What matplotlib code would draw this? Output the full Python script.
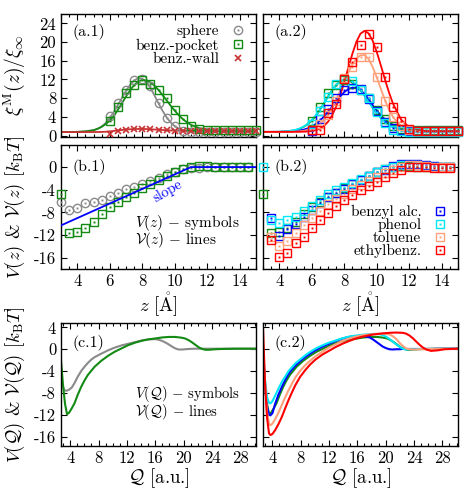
import numpy as np
import matplotlib
matplotlib.use("Agg")
import matplotlib.pyplot as plt
from matplotlib.ticker import MultipleLocator
from matplotlib.lines import Line2D

plt.rcParams['font.family'] = ['cmr10', 'DejaVu Serif']
plt.rcParams['mathtext.fontset'] = 'cm'
plt.rcParams['axes.unicode_minus'] = False
plt.rcParams['font.size'] = 12

# colours
c_grey = '#8a8a8a'
c_green = '#138a13'
c_wall = '#c83232'
c_blue = '#0000ff'
c_cyan = '#00e8f8'
c_salm = '#ffa07a'
c_red = '#ff0000'

# ---- (a) xi^M(z)/xi_inf : symbols at z = 6.0 ... 15.0 ----
z_a = np.arange(6.0, 15.01, 0.5)
xi_sphere = [4.1, 6.9, 9.8, 11.9, 12.2, 10.6, 7.0, 3.8, 2.0, 1.0, 0.7, 0.7, 0.8, 0.8, 0.8, 0.8, 0.8, 0.8, 0.8]
xi_pocket = [3.1, 6.2, 9.1, 10.8, 11.8, 11.1, 9.8, 8.0, 5.5, 3.6, 2.1, 1.4, 1.2, 1.2, 1.2, 1.2, 1.1, 1.1, 1.1]
xi_wall = [0.35, 1.05, 1.3, 1.45, 1.45, 1.35, 1.25, 1.15, 1.05, 1.0, 0.95, 1.0, 1.0, 1.0, 1.05, 1.0, 1.0, 1.0, 1.0]
xi_balc = [1.0, 3.5, 5.7, 8.0, 9.8, 10.2, 9.9, 7.9, 5.3, 3.0, 1.7, 1.1, 0.9, 0.9, 0.9, 0.9, 0.9, 0.9, 0.9]
xi_phen = [2.4, 5.2, 8.3, 11.1, 12.1, 11.7, 9.8, 8.1, 5.0, 2.6, 1.3, 0.9, 0.8, 0.8, 0.8, 0.8, 0.8, 0.8, 0.8]
xi_tolu = [1.2, 2.5, 4.3, 7.3, 12.3, 14.6, 16.8, 16.7, 12.5, 7.5, 4.0, 2.0, 1.2, 1.0, 1.0, 1.0, 1.0, 1.0, 1.0]
xi_ethb = [1.1, 1.1, 4.8, 6.8, 12.0, 15.8, 19.3, 21.7, 18.9, 12.5, 6.2, 3.1, 1.4, 1.0, 1.0, 1.0, 1.0, 1.0, 1.0]

# fitted lines
z_l = [3.0, 3.5, 4.0, 4.5, 5.0, 5.25, 5.5, 5.75, 6.0, 6.25, 6.5, 6.75, 7.0, 7.25, 7.5, 7.75, 8.0,
       8.25, 8.5, 8.75, 9.0, 9.25, 9.5, 9.75, 10.0, 10.25, 10.5, 10.75, 11.0, 11.5, 12.0, 13.0, 14.0, 15.0]
fit_sphere = [0.75, 0.76, 0.8, 0.9, 1.15, 1.45, 1.95, 2.7, 3.74, 5.06, 6.53, 8.08, 9.57, 10.85, 11.79, 12.26, 12.18,
              11.44, 10.2, 8.6, 6.9, 5.3, 3.9, 2.8, 2.0, 1.5, 1.15, 0.95, 0.85, 0.8, 0.8, 0.8, 0.8, 0.8]
fit_pocket = [0.75, 0.76, 0.8, 0.9, 1.15, 1.45, 1.85, 2.45, 3.2, 4.2, 5.5, 6.91, 8.35, 9.69, 10.8, 11.56, 11.9,
              11.8, 11.38, 10.67, 9.75, 8.67, 7.53, 6.39, 5.32, 4.35, 3.52, 2.84, 2.31, 1.6, 1.24, 1.03, 1.0, 1.0]
fit_wall = [0.75, 0.75, 0.75, 0.75, 0.76, 0.77, 0.78, 0.82, 0.9, 1.0, 1.1, 1.2, 1.3, 1.35, 1.4, 1.42, 1.42,
            1.4, 1.36, 1.3, 1.25, 1.2, 1.15, 1.1, 1.05, 1.03, 1.0, 1.0, 1.0, 1.0, 1.0, 1.0, 1.0, 1.0]
fit_balc = [0.8, 0.8, 0.81, 0.85, 0.97, 1.09, 1.27, 1.55, 1.95, 2.49, 3.19, 4.06, 5.07, 6.17, 7.31, 8.38, 9.29,
            9.95, 10.27, 10.21, 9.73, 8.87, 7.76, 6.51, 5.27, 4.14, 3.17, 2.4, 1.84, 1.17, 0.91, 0.85, 0.85, 0.85]
fit_phen = [0.8, 0.8, 0.83, 0.94, 1.24, 1.52, 1.94, 2.54, 3.33, 4.34, 5.55, 6.89, 8.3, 9.65, 10.8, 11.64, 12.06,
            12.02, 11.58, 10.78, 9.7, 8.46, 7.15, 5.88, 4.71, 3.7, 2.88, 2.23, 1.75, 1.18, 0.93, 0.85, 0.85, 0.85]
fit_tolu = [0.8, 0.8, 0.8, 0.81, 0.86, 0.92, 1.02, 1.2, 1.47, 1.9, 2.51, 3.37, 4.52, 5.95, 7.66, 9.57, 11.57,
            13.5, 15.2, 16.5, 17.18, 17.22, 16.35, 14.66, 12.44, 9.99, 7.65, 5.59, 3.96, 1.95, 1.13, 0.9, 0.9, 0.9]
fit_ethb = [0.8, 0.8, 0.8, 0.8, 0.8, 0.81, 0.84, 0.88, 0.98, 1.16, 1.5, 2.06, 2.96, 4.3, 6.18, 8.58, 11.41,
            14.5, 17.5, 20.08, 21.8, 22.4, 21.85, 20.26, 17.89, 15.03, 12.06, 9.26, 6.83, 3.41, 1.73, 0.95, 0.95, 0.95]

# ---- (b) V(z) ----
z_b = np.arange(3.0, 14.51, 0.5)     # 24 points
z_b2 = np.arange(3.5, 14.51, 0.5)    # 23 points
V_sphere = [-6.1, -7.6, -7.3, -6.4, -6.2, -5.8, -5.1, -4.6, -3.95, -3.45, -2.95, -2.45,
            -1.9, -1.3, -0.85, -0.35, -0.2, -0.1, 0.0, 0.0, 0.0, 0.0, 0.0, 0.0]
V_pocket = [-4.8, -11.65, -11.5, -10.8, -9.65, -8.35, -7.1, -6.2, -5.35, -4.5, -3.75, -2.95,
            -2.25, -1.5, -0.95, -0.35, 0.0, 0.25, 0.25, 0.1, 0.0, 0.0, 0.0, 0.0]
V_phen = [0.0, -9.4, -9.9, -9.4, -8.8, -7.8, -6.8, -5.8, -4.8, -4.1, -3.5, -2.8,
          -2.1, -1.5, -0.9, -0.4, 0.1, 0.35, 0.4, 0.35, 0.2, 0.1, 0.0, 0.0]
V_balc = [-9.0, -12.2, -11.0, -10.0, -8.8, -7.5, -6.3, -5.3, -4.5, -3.8, -3.0, -2.3,
          -1.6, -0.95, -0.45, 0.2, 0.5, 0.6, 0.5, 0.4, 0.25, 0.1, 0.0]
V_tolu = [-12.3, -14.0, -13.0, -11.7, -10.3, -9.0, -7.7, -6.6, -5.6, -4.8, -3.9, -3.2,
          -2.5, -1.8, -1.1, -0.5, 0.1, 0.3, 0.3, 0.2, 0.1, 0.0, 0.0]
V_ethb = [-12.8, -15.8, -15.1, -13.4, -12.4, -10.7, -9.4, -8.1, -6.8, -5.9, -5.0, -4.1,
          -3.3, -2.55, -1.8, -1.1, -0.45, 0.0, 0.05, 0.0, -0.1, -0.15, -0.2]
z_slope = [3.0, 11.0, 15.0]
V_slope = [-10.3, 0.0, 0.0]

# ---- (c) V(Q) ----
Q_grey = [2.7, 2.89, 3.17, 3.46, 3.84, 4.22, 4.6, 5.07, 5.54, 6.02, 6.49, 6.97, 7.44, 8.39, 9.34, 10.28, 11.23,
          12.18, 13.13, 14.08, 15.02, 15.97, 16.45, 16.92, 17.39, 17.87, 18.34, 18.82, 19.29, 19.76, 20.71,
          21.66, 23.56, 30.2]
VQ_sphere = [-3.5, -6.5, -7.5, -7.6, -7.4, -7.0, -6.2, -5.0, -4.0, -3.2, -2.5, -1.9, -1.45, -0.8, -0.2, 0.3, 0.7, 1.0,
             1.3, 1.6, 1.8, 1.85, 1.75, 1.55, 1.25, 0.9, 0.5, 0.15, -0.05, -0.05, 0.05, 0.1, 0.1, 0.1]
Q_green = [2.7, 2.98, 3.27, 3.55, 3.84, 4.22, 4.6, 5.07, 5.54, 6.02, 6.49, 7.44, 8.39, 9.34, 10.28, 11.23, 12.18,
           13.13, 14.08, 15.02, 15.97, 16.92, 17.87, 18.82, 19.76, 20.24, 20.71, 21.19, 21.66, 22.13, 22.61,
           23.08, 23.56, 24.5, 25.45, 27.35, 30.2]
VQ_pocket = [-2.0, -6.5, -10.0, -11.9, -11.6, -10.8, -9.9, -8.3, -6.9, -5.7, -4.7, -3.2, -2.1, -1.2, -0.45, 0.15,
             0.75, 1.2, 1.55, 1.8, 1.97, 2.15, 2.25, 2.25, 2.1, 1.95, 1.65, 1.25, 0.8, 0.35, 0.05, -0.1, -0.1,
             0.0, 0.05, 0.1, 0.1]
Q_c2 = [2.7, 2.98, 3.27, 3.55, 3.74, 4.03, 4.41, 4.88, 5.35, 5.83, 6.3, 6.78, 7.25, 7.91, 8.67, 9.34, 10.09,
        11.04, 11.99, 12.94, 13.89, 14.83, 15.78, 16.73, 17.68, 18.15, 18.63, 19.1, 19.57, 20.05, 20.52, 21.0,
        21.47, 21.94, 22.42, 22.89, 23.37, 23.84, 24.31, 24.79, 25.26, 25.74, 26.4, 27.35, 28.3, 30.2]
VQ_balc = [0.0, -6.5, -10.5, -12.0, -12.1, -11.7, -10.0, -8.3, -6.9, -5.6, -4.5, -3.7, -3.0, -2.2, -1.4, -0.8,
           -0.2, 0.45, 1.0, 1.5, 1.95, 2.25, 2.4, 2.45, 2.2, 1.85, 1.4, 0.95, 0.5, 0.2, 0.0, -0.05, 0.0, 0.0,
           0.05, 0.05, 0.05, 0.05, 0.05, 0.05, 0.05, 0.05, 0.05, 0.1, 0.1, 0.1]
VQ_phen = [0.0, -5.5, -8.8, -9.8, -9.9, -9.5, -8.5, -7.2, -6.0, -5.0, -4.0, -3.3, -2.6, -1.9, -1.1, -0.5,
           0.1, 0.7, 1.2, 1.6, 2.0, 2.3, 2.5, 2.65, 2.75, 2.8, 2.8, 2.75, 2.6, 2.3, 1.9, 1.4, 0.9, 0.45,
           0.1, -0.05, 0.0, 0.0, 0.0, 0.05, 0.05, 0.05, 0.05, 0.1, 0.1, 0.1]
VQ_tolu = [1.0, -6.0, -11.5, -13.7, -13.9, -13.6, -12.8, -11.6, -10.2, -8.8, -7.5, -6.3, -5.2, -4.0, -2.9, -2.1,
           -1.3, -0.5, 0.3, 0.9, 1.5, 1.95, 2.3, 2.55, 2.7, 2.75, 2.8, 2.85, 2.85, 2.8, 2.7, 2.4, 1.9, 1.2,
           0.6, 0.15, 0.0, -0.05, -0.05, 0.0, 0.0, 0.0, 0.05, 0.1, 0.1, 0.1]
VQ_ethb = [4.0, -6.0, -12.5, -15.4, -15.7, -15.5, -14.8, -13.7, -12.4, -10.8, -9.3, -7.9, -6.6, -5.1, -3.8, -2.8,
           -1.9, -1.0, -0.3, 0.4, 1.0, 1.5, 1.95, 2.3, 2.56, 2.68, 2.75, 2.82, 2.9, 2.95, 3.0, 3.03, 3.05, 3.03,
           3.0, 2.85, 2.5, 2.0, 1.4, 0.8, 0.3, -0.05, -0.3, -0.2, 0.0, 0.1]


def sym(ax, x, y, c, m='s'):
    ax.plot(x, y, ls='none', marker=m, ms=6, mfc='none', mec=c, mew=1.0, clip_on=False, zorder=3)
    ax.plot(x, y, ls='none', marker='s', ms=1.4, mfc=c, mec=c, mew=0, clip_on=False, zorder=3)


def handle(c, m='s'):
    return (Line2D([], [], ls='none', marker=m, ms=6, mfc='none', mec=c, mew=1.0),
            Line2D([], [], ls='none', marker='s', ms=1.4, mfc=c, mec=c, mew=0))


def style(ax):
    ax.tick_params(which='both', direction='in', top=True, right=True, width=0.8, labelsize=12)
    ax.tick_params(which='major', length=4)
    ax.tick_params(which='minor', length=2)
    for s in ax.spines.values():
        s.set_linewidth(1.0)


fig = plt.figure(figsize=(4.68, 4.90), dpi=100)
W = 195 / 468
lefts = [61 / 468, 263 / 468]
rows = {'a': (1 - 137 / 490, 123 / 490), 'b': (1 - 269 / 490, 124 / 490), 'c': (1 - 446 / 490, 123 / 490)}
axs = {}
for r, (b, h) in rows.items():
    for i, l in enumerate(lefts):
        ax = fig.add_axes([l, b, W, h])
        style(ax)
        axs[r + str(i + 1)] = ax

lw = 1.3
# (a.1)
ax = axs['a1']
ax.plot(z_l, fit_sphere, color=c_grey, lw=lw)
ax.plot(z_l, fit_pocket, color=c_green, lw=lw)
ax.plot(z_l, fit_wall, color=c_wall, lw=lw)
sym(ax, z_a, xi_sphere, c_grey, 'o')
sym(ax, z_a, xi_pocket, c_green)
ax.plot(z_a, xi_wall, ls='none', marker='x', ms=5, mew=1.2, color=c_wall, clip_on=False, zorder=3)
ax.legend([handle(c_grey, 'o'), handle(c_green),
           Line2D([], [], ls='none', marker='x', ms=5, mew=1.2, color=c_wall)],
          ['sphere', 'benz.-pocket', 'benz.-wall'], loc='upper right', frameon=False,
          markerfirst=False, handlelength=1.0, handletextpad=0.7, labelspacing=0.0,
          fontsize=11, borderaxespad=0.3)

# (a.2)
ax = axs['a2']
for f, c in [(fit_pocket, c_green), (fit_balc, c_blue), (fit_phen, c_cyan), (fit_tolu, c_salm), (fit_ethb, c_red)]:
    ax.plot(z_l, f, color=c, lw=lw)
for d, c in [(xi_pocket, c_green), (xi_balc, c_blue), (xi_phen, c_cyan), (xi_tolu, c_salm), (xi_ethb, c_red)]:
    sym(ax, z_a, d, c)

for k in ['a1', 'a2']:
    axs[k].set_ylim(-0.3, 26)
    axs[k].yaxis.set_major_locator(MultipleLocator(4))
    axs[k].tick_params(labelbottom=False)

# (b.1)
ax = axs['b1']
sym(ax, z_b, V_sphere, c_grey, 'o')
sym(ax, z_b, V_pocket, c_green)
ax.plot(z_slope, V_slope, color=c_blue, lw=lw, zorder=4)
ax.text(9.55, -4.3, 'slope', color=c_blue, rotation=30, fontsize=10.5, ha='center', va='center')
ax.text(0.38, 0.375, r'$V(z)$ $-$ symbols', transform=ax.transAxes, fontsize=11, va='center')
ax.text(0.38, 0.23, r'$\mathcal{V}(z)$ $-$ lines', transform=ax.transAxes, fontsize=11, va='center')

# (b.2)
ax = axs['b2']
sym(ax, z_b, V_pocket, c_green)
sym(ax, z_b2, V_balc, c_blue)
sym(ax, z_b, V_phen, c_cyan)
sym(ax, z_b2, V_tolu, c_salm)
sym(ax, z_b2, V_ethb, c_red)
ax.legend([handle(c_blue), handle(c_cyan), handle(c_salm), handle(c_red)],
          ['benzyl alc.', 'phenol', 'toluene', 'ethylbenz.'], loc='lower right', frameon=False,
          markerfirst=False, handlelength=1.0, handletextpad=0.7, labelspacing=-0.05,
          fontsize=11, borderaxespad=0.3)

for k in ['a1', 'a2', 'b1', 'b2']:
    axs[k].set_xlim(3, 15)
    axs[k].xaxis.set_major_locator(MultipleLocator(2))
    axs[k].xaxis.set_minor_locator(MultipleLocator(0.5))
for k in ['b1', 'b2']:
    axs[k].set_ylim(-18, 3.9)
    axs[k].yaxis.set_major_locator(MultipleLocator(4))
    axs[k].set_xlabel(r'$z\ [\mathring{\mathrm{A}}]$', fontsize=13.5)
    axs[k].xaxis.set_label_coords(0.5, -0.17)

# (c.1)
ax = axs['c1']
ax.plot(Q_grey, VQ_sphere, color=c_grey, lw=1.5)
ax.plot(Q_green, VQ_pocket, color=c_green, lw=1.5)
ax.text(0.38, 0.425, r'$V(\mathcal{Q})$ $-$ symbols', transform=ax.transAxes, fontsize=10.5, va='center')
ax.text(0.38, 0.275, r'$\mathcal{V}(\mathcal{Q})$ $-$ lines', transform=ax.transAxes, fontsize=10.5, va='center')

# (c.2)
ax = axs['c2']
ax.plot(Q_green, VQ_pocket, color=c_green, lw=1.5)
for d, c in [(VQ_balc, c_blue), (VQ_phen, c_cyan), (VQ_tolu, c_salm), (VQ_ethb, c_red)]:
    ax.plot(Q_c2, d, color=c, lw=1.5)

for k in ['c1', 'c2']:
    axs[k].set_xlim(2.7, 30.2)
    axs[k].set_ylim(-17.7, 4.8)
    axs[k].xaxis.set_major_locator(MultipleLocator(4))
    axs[k].xaxis.set_minor_locator(MultipleLocator(1))
    axs[k].yaxis.set_major_locator(MultipleLocator(4))
    axs[k].set_xlabel(r'$\mathcal{Q}$ [a.u.]', fontsize=13.5)
    axs[k].xaxis.set_label_coords(0.5, -0.165)

for k in ['a2', 'b2', 'c2']:
    axs[k].tick_params(labelleft=False)

axs['a1'].set_ylabel(r'$\xi^{\mathrm{M}}(z)/\xi_{\infty}$', fontsize=14)
axs['b1'].set_ylabel(r'$V(z)$ & $\mathcal{V}(z)$ [$k_{\mathrm{B}}T$]', fontsize=13.5)
axs['c1'].set_ylabel(r'$V(\mathcal{Q})$ & $\mathcal{V}(\mathcal{Q})$ [$k_{\mathrm{B}}T$]', fontsize=13.5)
for k in ['a1', 'b1', 'c1']:
    axs[k].yaxis.set_label_coords(-0.175, 0.5)

for k, lab in [('a1', '(a.1)'), ('a2', '(a.2)'), ('b1', '(b.1)'), ('b2', '(b.2)'), ('c1', '(c.1)'), ('c2', '(c.2)')]:
    y = {'a': 0.85, 'b': 0.82, 'c': 0.835}[k[0]]
    axs[k].text(0.06, y, lab, transform=axs[k].transAxes, fontsize=11.5, va='center')

fig.savefig('out.png', dpi=100)
